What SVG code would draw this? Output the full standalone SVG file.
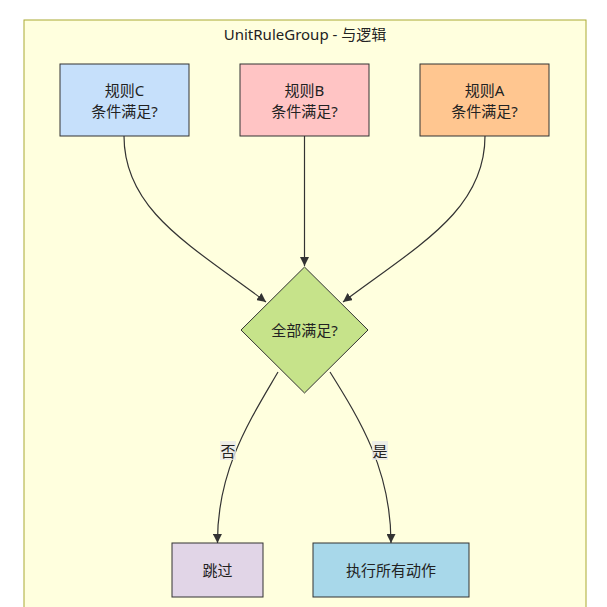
<svg xmlns="http://www.w3.org/2000/svg" width="607" height="607" viewBox="0 0 607 607">
<defs>
<style>
text{font-family:"Noto Sans","Noto Sans CJK SC",sans-serif;font-size:15px;fill:#222;text-anchor:middle;dominant-baseline:central}
.node{stroke:#333;stroke-width:1}
.edge{fill:none;stroke:#333;stroke-width:1.2}
.lbl{fill:#e8e8e8;opacity:0.8}
</style>
<marker id="arrow" viewBox="0 0 10 10" refX="10" refY="5" markerWidth="9" markerHeight="9" markerUnits="userSpaceOnUse" orient="auto">
<path d="M0,0 L10,5 L0,10 z" fill="#333"/>
</marker>
</defs>
<rect x="0" y="0" width="607" height="607" fill="#ffffff"/>
<g id="cluster">
<rect x="24" y="20" width="562" height="600" fill="#ffffde" stroke="#aaaa33" stroke-width="1"/>
<text x="305" y="34">UnitRuleGroup - 与逻辑</text>
</g>
<g id="connectors">
<path class="edge" d="M124,136 C124,210 190,245 266,302" marker-end="url(#arrow)"/>
<path class="edge" d="M304.5,136 L304.5,266" marker-end="url(#arrow)"/>
<path class="edge" d="M485,136 C485,210 419,245 343,302" marker-end="url(#arrow)"/>
<path class="edge" d="M278,372 C250,420 217,470 217.5,543" marker-end="url(#arrow)"/>
<path class="edge" d="M330,372 C360,420 391,470 391,543" marker-end="url(#arrow)"/>
<rect class="lbl" x="220" y="441" width="16" height="19"/>
<text x="228" y="451">否</text>
<rect class="lbl" x="372" y="441" width="16" height="19"/>
<text x="380" y="451">是</text>
</g>
<g id="ruleC">
<rect class="node" x="60" y="64" width="129" height="72" fill="#c6e0fb"/>
<text x="124.5" y="89.5">规则C</text>
<text x="124.5" y="110.5">条件满足?</text>
</g>
<g id="ruleB">
<rect class="node" x="240" y="64" width="129" height="72" fill="#ffc4c4"/>
<text x="304.5" y="89.5">规则B</text>
<text x="304.5" y="110.5">条件满足?</text>
</g>
<g id="ruleA">
<rect class="node" x="420" y="64" width="129" height="72" fill="#ffc690"/>
<text x="484.5" y="89.5">规则A</text>
<text x="484.5" y="110.5">条件满足?</text>
</g>
<g id="allMet">
<polygon class="node" points="304.5,267 368,330 304.5,393 241,330" fill="#c6e38a"/>
<text x="304.5" y="330">全部满足?</text>
</g>
<g id="skip">
<rect class="node" x="172" y="543" width="91" height="54" fill="#e1d5e7"/>
<text x="217.5" y="570">跳过</text>
</g>
<g id="execAll">
<rect class="node" x="313" y="543" width="156" height="54" fill="#a8d8ea"/>
<text x="391" y="570">执行所有动作</text>
</g>
</svg>
